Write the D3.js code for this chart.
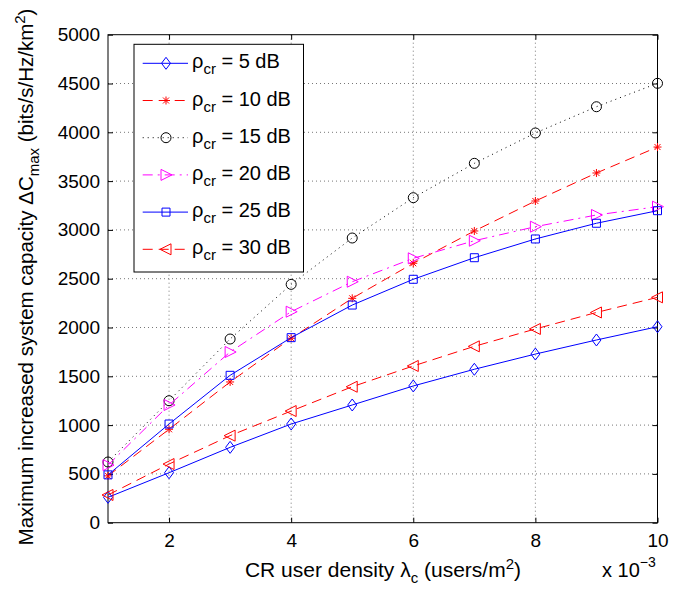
<!DOCTYPE html>
<html>
<head>
<meta charset="utf-8">
<script src="https://cdn.jsdelivr.net/npm/d3@7"></script>
<style>
  body { margin: 0; background: #fff; }
  svg { font-family: "Liberation Sans", Arial, sans-serif; }
</style>
</head>
<body>
<div id="chart"></div>
<script>
// x values are in units of 10^-3 users/m^2
const density = [1, 2, 3, 4, 5, 6, 7, 8, 9, 10];
const xTicks = [2, 4, 6, 8, 10];
const yTicks = [0, 500, 1000, 1500, 2000, 2500, 3000, 3500, 4000, 4500, 5000];

const labels = ["5 dB", "10 dB", "15 dB", "20 dB", "25 dB", "30 dB"];
const cap5  = [260, 512, 772, 1011, 1206, 1401, 1572, 1728, 1872, 2008];
const cap10 = [480, 957, 1442, 1890, 2299, 2658, 2989, 3296, 3583, 3849];
const cap15 = [622, 1250, 1882, 2442, 2917, 3330, 3682, 3993, 4262, 4502];
const cap20 = [590, 1206, 1749, 2162, 2469, 2709, 2889, 3033, 3153, 3238];
const cap25 = [490, 1011, 1510, 1896, 2230, 2494, 2715, 2907, 3068, 3197];
const cap30 = [284, 601, 892, 1144, 1393, 1606, 1807, 1985, 2154, 2309];

const series = [
    { label: labels[0], values: cap5,  color: "#0000ff", dash: null,      marker: "diamond" },
    { label: labels[1], values: cap10, color: "#ff0000", dash: "10,6",    marker: "star" },
    { label: labels[2], values: cap15, color: "#000000", dash: "1,4",     marker: "circle" },
    { label: labels[3], values: cap20, color: "#ff00ff", dash: "10,5,2,5", marker: "triRight" },
    { label: labels[4], values: cap25, color: "#0000ff", dash: null,      marker: "square" },
    { label: labels[5], values: cap30, color: "#ff0000", dash: "10,6",    marker: "triLeft" }
];

const width = 689, height = 592;
const plot = { left: 108, right: 657.5, top: 34.7, bottom: 522.7 };

const svg = d3.select("#chart").append("svg")
    .attr("width", width)
    .attr("height", height);

const x = d3.scaleLinear().domain([1, 10]).range([plot.left, plot.right]);
const y = d3.scaleLinear().domain([0, 5000]).range([plot.bottom, plot.top]);

// Grid (dotted, MATLAB style)
const grid = svg.append("g").attr("class", "grid")
    .attr("stroke", "#777").attr("stroke-width", 1).attr("stroke-dasharray", "1,3");
grid.selectAll("line.gx").data(xTicks.filter(d => d < 10)).join("line")
    .attr("x1", d => x(d)).attr("x2", d => x(d))
    .attr("y1", plot.top).attr("y2", plot.bottom);
grid.selectAll("line.gy").data(yTicks.filter(d => d > 0 && d < 5000)).join("line")
    .attr("x1", plot.left).attr("x2", plot.right)
    .attr("y1", d => y(d)).attr("y2", d => y(d));

// Axes with inward ticks on all four sides
const axisFont = g => g.selectAll("text")
    .attr("font-family", "Liberation Sans, Arial, sans-serif")
    .attr("font-size", 19).attr("fill", "#000");

svg.append("g")
    .attr("transform", `translate(0,${plot.bottom})`)
    .call(d3.axisBottom(x).tickValues(xTicks).tickFormat(d3.format("d"))
        .tickSize(-5).tickPadding(11).tickSizeOuter(0))
    .call(axisFont)
    .call(g => g.select(".domain").remove());
svg.append("g")
    .attr("transform", `translate(0,${plot.top})`)
    .call(d3.axisTop(x).tickValues(xTicks).tickSize(-5).tickFormat("").tickSizeOuter(0))
    .call(g => g.select(".domain").remove());
svg.append("g")
    .attr("transform", `translate(${plot.left},0)`)
    .call(d3.axisLeft(y).tickValues(yTicks).tickFormat(d3.format("d"))
        .tickSize(-5).tickPadding(8).tickSizeOuter(0))
    .call(axisFont)
    .call(g => g.select(".domain").remove());
svg.append("g")
    .attr("transform", `translate(${plot.right},0)`)
    .call(d3.axisRight(y).tickValues(yTicks).tickSize(-5).tickFormat("").tickSizeOuter(0))
    .call(g => g.select(".domain").remove());

svg.selectAll(".tick line").attr("stroke", "#000");

svg.append("rect")
    .attr("x", plot.left).attr("y", plot.top)
    .attr("width", plot.right - plot.left).attr("height", plot.bottom - plot.top)
    .attr("fill", "none").attr("stroke", "#000").attr("stroke-width", 1);

// Marker shapes
function markerPath(type) {
    switch (type) {
        case "diamond":  return "M0,-6L4.5,0L0,6L-4.5,0Z";
        case "square":   return "M-4,-4H4V4H-4Z";
        case "circle":   return "M5,0A5,5 0 1,1 -5,0A5,5 0 1,1 5,0Z";
        case "triRight": return "M-5,-5.5L6,0L-5,5.5Z";
        case "triLeft":  return "M5,-5.5L-6,0L5,5.5Z";
        case "star":     return "M-4,0H4M0,-4V4M-3,-3L3,3M-3,3L3,-3";
    }
}

// Lines and markers
const line = d3.line().x((d, i) => x(density[i])).y(d => y(d));

const seriesG = svg.append("g").attr("class", "series");
series.forEach(s => {
    seriesG.append("path")
        .datum(s.values)
        .attr("d", line)
        .attr("fill", "none")
        .attr("stroke", s.color)
        .attr("stroke-width", 1)
        .attr("stroke-dasharray", s.dash);
    seriesG.selectAll(null)
        .data(s.values)
        .join("path")
        .attr("transform", (d, i) => `translate(${x(density[i])},${y(d)})`)
        .attr("d", markerPath(s.marker))
        .attr("fill", "none")
        .attr("stroke", s.color)
        .attr("stroke-width", 1);
});

// Legend
const legend = svg.append("g").attr("class", "legend");
legend.append("rect")
    .attr("x", 134).attr("y", 44.3)
    .attr("width", 169.5).attr("height", 227.7)
    .attr("fill", "#fff").attr("stroke", "#000").attr("stroke-width", 1);

const rowY = d3.scalePoint().domain(labels).range([63.3, 249.3]);
series.forEach(s => {
    const ly = rowY(s.label);
    const g = legend.append("g").attr("transform", `translate(0,${ly})`);
    g.append("line")
        .attr("x1", 142.7).attr("x2", 188).attr("y1", 0).attr("y2", 0)
        .attr("stroke", s.color).attr("stroke-width", 1)
        .attr("stroke-dasharray", s.dash);
    g.append("path")
        .attr("transform", "translate(166,0)")
        .attr("d", markerPath(s.marker))
        .attr("fill", "none").attr("stroke", s.color).attr("stroke-width", 1);
    const t = g.append("text")
        .attr("x", 192).attr("y", 5)
        .attr("font-size", 20).attr("fill", "#000");
    t.append("tspan").text("ρ");
    t.append("tspan").attr("dy", 6).attr("font-size", 15).text("cr");
    t.append("tspan").attr("dy", -6).text(" = " + s.label);
});

// Axis labels
const xLabel = svg.append("text")
    .attr("x", 383).attr("y", 577)
    .attr("text-anchor", "middle")
    .attr("font-size", 21).attr("fill", "#000");
xLabel.append("tspan").text("CR user density λ");
xLabel.append("tspan").attr("dy", 6).attr("font-size", 15).text("c");
xLabel.append("tspan").attr("dy", -6).text(" (users/m");
xLabel.append("tspan").attr("dy", -8).attr("font-size", 15).text("2");
xLabel.append("tspan").attr("dy", 8).text(")");

const expo = svg.append("text")
    .attr("x", 602).attr("y", 577)
    .attr("font-size", 20).attr("fill", "#000");
expo.append("tspan").text("x 10");
expo.append("tspan").attr("dy", -10).attr("font-size", 14).text("−3");

const yLabel = svg.append("text")
    .attr("transform", "translate(33,277) rotate(-90)")
    .attr("text-anchor", "middle")
    .attr("font-size", 20.5).attr("fill", "#000");
yLabel.append("tspan").text("Maximum increased system capacity ΔC");
yLabel.append("tspan").attr("dy", 6).attr("font-size", 15).text("max");
yLabel.append("tspan").attr("dy", -6).text(" (bits/s/Hz/km");
yLabel.append("tspan").attr("dy", -8).attr("font-size", 15).text("2");
yLabel.append("tspan").attr("dy", 8).text(")");
</script>
</body>
</html>
